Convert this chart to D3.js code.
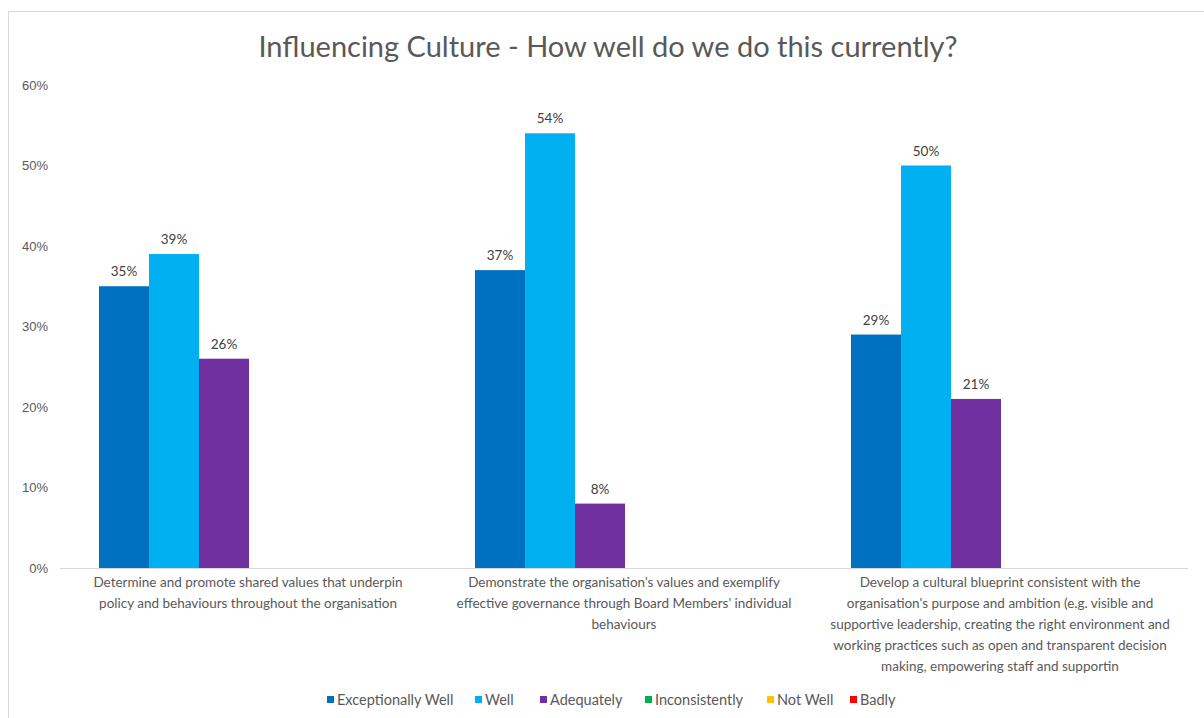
<!DOCTYPE html>
<html lang="en">
<head>
    <meta charset="UTF-8">
    <title>Influencing Culture</title>
    <script src="https://d3js.org/d3.v7.min.js"></script>
    <style>
        body { margin: 0; background: #fff; }
        svg { font-family: Lato, "Open Sans", sans-serif; }
    </style>
</head>
<body>
    <svg width="1204" height="718"></svg>
    <script>
        const categories = [
            ["Determine and promote shared values that underpin",
             "policy and behaviours throughout the organisation"],
            ["Demonstrate the organisation's values and exemplify",
             "effective governance through Board Members' individual",
             "behaviours"],
            ["Develop a cultural blueprint consistent with the",
             "organisation's purpose and ambition (e.g. visible and",
             "supportive leadership, creating the right environment and",
             "working practices such as open and transparent decision",
             "making, empowering staff and supportin"]
        ];
        const seriesNames = ["Exceptionally Well", "Well", "Adequately", "Inconsistently", "Not Well", "Badly"];
        const seriesColors = ["#0070c0", "#00b0f0", "#7030a0", "#00b050", "#ffc000", "#ff0000"];
        const exceptionallyWell = [0.35, 0.37, 0.29];
        const well = [0.39, 0.54, 0.50];
        const adequately = [0.26, 0.08, 0.21];
        const yTicks = [0, 0.1, 0.2, 0.3, 0.4, 0.5, 0.6];

        const values = [exceptionallyWell, well, adequately];

        const svg = d3.select("svg");

        // chart border
        svg.append("rect")
            .attr("x", 8.5).attr("y", 11.5)
            .attr("width", 1220).attr("height", 720)
            .attr("fill", "none")
            .attr("stroke", "#d9d9d9");

        svg.append("text")
            .attr("x", 608).attr("y", 57)
            .attr("text-anchor", "middle")
            .attr("font-size", 29)
            .attr("fill", "#595959")
            .text("Influencing Culture - How well do we do this currently?");

        const catIdx = categories.map((c, i) => i);
        const x0 = d3.scaleBand().domain(catIdx).range([60, 1188]);
        const x1 = d3.scaleBand().domain(seriesNames).range([39, 339]);
        const y = d3.scaleLinear().domain([0, 0.6]).range([568, 85]);

        // y axis labels
        const yAxis = svg.append("g")
            .attr("transform", "translate(60,0)")
            .call(d3.axisLeft(y).tickValues(yTicks).tickFormat(d3.format(".0%")).tickSize(0).tickPadding(12));
        yAxis.select(".domain").remove();
        yAxis.selectAll("text").attr("font-size", 13).attr("fill", "#595959").attr("font-family", null);

        // bars
        const rows = [];
        values.forEach((arr, s) => arr.forEach((v, c) => rows.push({ s: s, c: c, v: v })));

        svg.selectAll(".bar")
            .data(rows)
            .enter().append("rect")
            .attr("class", "bar")
            .attr("x", d => x0(d.c) + x1(seriesNames[d.s]))
            .attr("y", d => y(d.v))
            .attr("width", x1.bandwidth())
            .attr("height", d => y(0) - y(d.v))
            .attr("fill", d => seriesColors[d.s]);

        svg.selectAll(".val")
            .data(rows)
            .enter().append("text")
            .attr("class", "val")
            .attr("x", d => x0(d.c) + x1(seriesNames[d.s]) + x1.bandwidth() / 2)
            .attr("y", d => y(d.v) - 10)
            .attr("text-anchor", "middle")
            .attr("font-size", 13.5)
            .attr("fill", "#404040")
            .text(d => d3.format(".0%")(d.v));

        // baseline
        svg.append("line")
            .attr("x1", 60).attr("x2", 1188)
            .attr("y1", y(0) + 0.5).attr("y2", y(0) + 0.5)
            .attr("stroke", "#d9d9d9");

        // category labels
        const catLabel = svg.selectAll(".cat")
            .data(categories)
            .enter().append("text")
            .attr("class", "cat")
            .attr("text-anchor", "middle")
            .attr("font-size", 13.5)
            .attr("fill", "#595959");
        catLabel.each(function (lines, i) {
            d3.select(this).selectAll("tspan")
                .data(lines)
                .enter().append("tspan")
                .attr("x", x0(i) + x0.bandwidth() / 2)
                .attr("y", (d, j) => 587 + j * 21)
                .text(d => d);
        });

        // legend
        const legendX = [327, 475, 540, 645, 767, 850];
        const legend = svg.selectAll(".leg")
            .data(seriesNames)
            .enter().append("g")
            .attr("class", "leg")
            .attr("transform", (d, i) => `translate(${legendX[i]},700)`);
        legend.append("rect")
            .attr("x", 0).attr("y", -4)
            .attr("width", 7).attr("height", 7)
            .attr("fill", (d, i) => seriesColors[i]);
        legend.append("text")
            .attr("x", 10).attr("y", 5)
            .attr("font-size", 14.5)
            .attr("fill", "#595959")
            .text(d => d);
    </script>
</body>
</html>
